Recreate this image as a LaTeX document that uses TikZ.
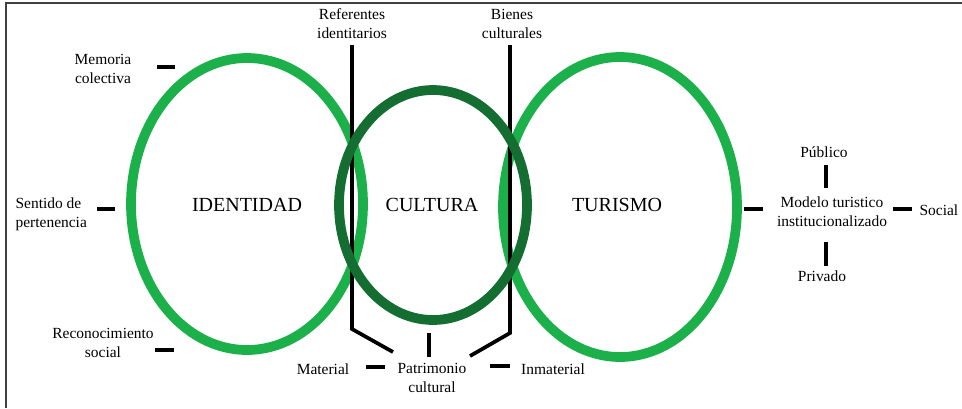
\documentclass[tikz,border=0pt]{standalone}
\usepackage{fontspec}
\setmainfont{Liberation Serif}
\definecolor{lgreen}{RGB}{28,176,75}
\definecolor{dgreen}{RGB}{20,110,50}
\tikzset{
  lbl/.style={align=center, inner sep=1pt, font=\fontsize{11.6}{14.3}\selectfont},
  big/.style={inner sep=1pt, font=\fontsize{15}{18}\selectfont},
  ring/.style={line width=7.3pt},
  bar/.style={line width=2.8pt},
  dashl/.style={line width=3.6pt},
}
\begin{document}
\begin{tikzpicture}[x=0.75pt,y=-0.75pt]
\useasboundingbox (0,0) rectangle (962,408);
% frame
\draw[line width=1.5pt, black!75] (6,408) -- (6,3) -- (962,3);
% light ellipses
\draw[ring, lgreen] (247,204) ellipse [x radius=116, y radius=146];
\draw[ring, lgreen] (620,207) ellipse [x radius=117, y radius=150];
% top labels
\node[lbl] (ref) at (352,24) {Referentes\\identitarios};
\node[lbl] (bie) at (512,24) {Bienes\\culturales};
\coordinate (refb) at (352,45);
\coordinate (bieb) at (510,45);
\coordinate (refk) at (352,329);
\coordinate (biek) at (510,333);
% bottom labels
\node[lbl] (pat) at (432,378) {Patrimonio\\cultural};
\node[lbl] (mat) at (323,369) {Material};
\node[lbl] (inm) at (553,369) {Inmaterial};
% verticals
\draw[bar] (refb) -- (refk) -- (393,352);
\draw[bar] (bieb) -- (biek) -- (470,356);
\draw[bar] (429,333) -- (429,357);
\draw[dashl] (366,367) -- (385,367);
\draw[dashl] (490,366) -- (510,366);
% dark ellipse
\draw[ring, dgreen] (433,205) ellipse [x radius=94, y radius=115];
% big labels
\node[big] (ide) at (247,205) {IDENTIDAD};
\node[big] (cul) at (432,205) {CULTURA};
\node[big] (tur) at (617,205) {TURISMO};
% left labels
\node[lbl] (mem) at (103,69) {Memoria\\colectiva};
\node[lbl, align=left, anchor=west] (sen) at (14,214) {Sentido de\\pertenencia};
\node[lbl] (rec) at (103,343) {Reconocimiento\\social};
\draw[dashl] (157,67) -- (175,67);
\draw[dashl] (97,209) -- (115,209);
\draw[dashl] (155,350) -- (174,350);
% right side
\node[lbl] (mod) at (832,212) {Modelo turistico\\institucionalizado};
\node[lbl] (pub) at (824,152) {Público};
\node[lbl] (pri) at (822,276) {Privado};
\node[lbl, anchor=west] (soc) at (918,210) {Social};
\draw[dashl] (744,209) -- (763,209);
\draw[dashl] (893,209) -- (912,209);
\draw[bar] (826,165) -- (826,188);
\draw[bar] (826,242) -- (826,266);
\end{tikzpicture}
\end{document}
